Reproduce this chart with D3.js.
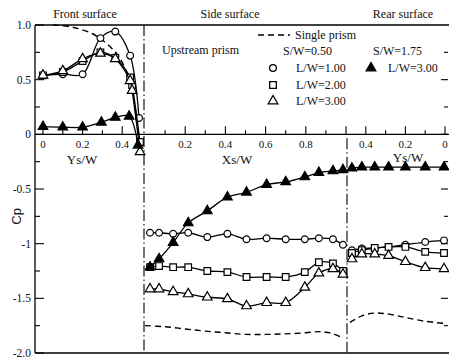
<!DOCTYPE html>
<html>
<head>
<meta charset="utf-8">
<script src="https://cdn.jsdelivr.net/npm/d3@7"></script>
<style>
  html, body { margin: 0; padding: 0; background: #fff; }
  svg { display: block; }
  text { font-family: "Liberation Serif", "DejaVu Serif", serif; fill: #111; }
</style>
</head>
<body>
<svg id="chart" width="449" height="358"></svg>
<script>
// Pressure coefficient Cp around the upstream prism: front, side and rear faces.

// Front surface, Ys/W vs Cp
const frontCircle   = [[0,0.54],[0.1,0.55],[0.2,0.55],[0.29,0.88],[0.365,0.94],[0.44,0.72],[0.485,0.15]];
const frontSquare   = [[0,0.54],[0.1,0.57],[0.2,0.67],[0.29,0.75],[0.365,0.70],[0.44,0.52],[0.45,0.45],[0.49,-0.07]];
const frontTriangle = [[0,0.54],[0.1,0.58],[0.2,0.69],[0.29,0.74],[0.365,0.69],[0.44,0.49],[0.45,0.40],[0.49,-0.16]];
const frontFilled   = [[0,0.07],[0.1,0.065],[0.2,0.065],[0.295,0.11],[0.365,0.155],[0.435,0.165],[0.48,-0.1]];
const frontSingle   = [[0.05,1.0],[0.15,0.98],[0.25,0.92],[0.3,0.86],[0.34,0.80],[0.38,0.72],[0.42,0.58],[0.45,0.40],[0.47,0.18],[0.485,-0.05]];

// Side surface, Xs/W positions shared by all series
const sideXs       = [0.025,0.07,0.14,0.215,0.31,0.41,0.505,0.605,0.70,0.795,0.865,0.935,0.985];
const sideCircle   = [-0.90,-0.90,-0.91,-0.90,-0.94,-0.91,-0.96,-0.95,-0.96,-0.96,-0.95,-0.96,-1.01];
const sideSquare   = [-1.215,-1.205,-1.215,-1.215,-1.25,-1.26,-1.305,-1.305,-1.305,-1.26,-1.17,-1.18,-1.25];
const sideTriangle = [-1.415,-1.415,-1.44,-1.46,-1.49,-1.505,-1.57,-1.54,-1.54,-1.40,-1.27,-1.23,-1.28];
const sideFilled   = [-1.215,-1.14,-0.99,-0.81,-0.70,-0.575,-0.53,-0.46,-0.435,-0.39,-0.35,-0.335,-0.325];
const sideSingle   = [[0,-1.75],[0.1,-1.76],[0.2,-1.78],[0.3,-1.80],[0.4,-1.815],[0.5,-1.83],[0.6,-1.83],[0.7,-1.825],[0.8,-1.815],[0.87,-1.805],[0.93,-1.82],[0.98,-1.86]];

// Rear surface, Ys/W positions shared by all series
const rearYs       = [0.47,0.42,0.355,0.285,0.2,0.1,0.005];
const rearCircle   = [-1.06,-1.045,-1.04,-1.03,-1.01,-0.985,-0.97];
const rearSquare   = [-1.085,-1.06,-1.04,-1.03,-1.03,-1.075,-1.085];
const rearTriangle = [-1.14,-1.095,-1.095,-1.11,-1.165,-1.22,-1.23];
const rearFilled   = [-0.31,-0.30,-0.30,-0.30,-0.30,-0.30,-0.30];
const rearSingle   = [[0.48,-1.72],[0.42,-1.66],[0.36,-1.635],[0.3,-1.64],[0.2,-1.675],[0.1,-1.71],[0,-1.73]];

// Axis ticks
const cpTicks     = [1.0,0.5,0,-0.5,-1,-1.5,-2.0];
const cpTickText  = ["1.0","0.5","0","-0.5","-1","-1.5","-2.0"];
const frontTicks  = [0,0.2,0.4];
const sideTicks   = [0.2,0.4,0.6,0.8];
const rearTicks   = [0.4,0.2,0];

const svg = d3.select("#chart");

const y      = d3.scaleLinear().domain([-2, 1]).range([353, 25]);
const xFront = d3.scaleLinear().domain([0, 0.5]).range([43, 142]);
const xSide  = d3.scaleLinear().domain([0, 1]).range([145, 346]);
const xRear  = d3.scaleLinear().domain([0.5, 0]).range([346, 445]);

const frameL = 35, frameR = 449, frameT = y(1), frameB = y(-2), zeroY = y(0);

// Frame
svg.append("line").attr("x1", frameL).attr("x2", frameL).attr("y1", frameT).attr("y2", frameB)
  .attr("stroke", "#000").attr("stroke-width", 1.3);
svg.append("line").attr("x1", frameL).attr("x2", frameR).attr("y1", frameT).attr("y2", frameT)
  .attr("stroke", "#000").attr("stroke-width", 1.6);
svg.append("line").attr("x1", frameL).attr("x2", frameR).attr("y1", frameB).attr("y2", frameB)
  .attr("stroke", "#000").attr("stroke-width", 1.3);
svg.append("line").attr("x1", frameL).attr("x2", frameR).attr("y1", zeroY).attr("y2", zeroY)
  .attr("stroke", "#000").attr("stroke-width", 1.2);

// Cp ticks, left and right
const cpAll = d3.range(-2, 1.001, 0.25);
cpAll.forEach(v => {
  const major = Math.abs(v * 2 - Math.round(v * 2)) < 1e-6;
  svg.append("line").attr("x1", frameL).attr("x2", frameL + (major ? 9 : 5))
    .attr("y1", y(v)).attr("y2", y(v)).attr("stroke", "#000").attr("stroke-width", 1.1);
  if (v > -2 && v < 1) {
    svg.append("line").attr("x1", 448).attr("x2", 448 - (major ? 7 : 4))
      .attr("y1", y(v)).attr("y2", y(v)).attr("stroke", "#000").attr("stroke-width", 1.1);
  }
});
svg.selectAll(".cplab").data(cpTicks).enter().append("text")
  .attr("x", 31).attr("y", d => y(d)).attr("dy", "0.35em")
  .attr("text-anchor", "end").attr("font-size", 11.5)
  .text((d, i) => cpTickText[i]);

svg.append("text").attr("transform", `translate(21,${y(-0.75)}) rotate(-90)`)
  .attr("text-anchor", "middle").attr("font-size", 13)
  .style("font-family", "'Liberation Sans', Arial, sans-serif").text("Cp");

// Ticks on the Cp = 0 line
function zeroTicks(scale, lo, hi, majors) {
  for (let t = lo; t <= hi + 1e-6; t += 0.1) {
    const v = Math.round(t * 10) / 10;
    const major = majors.some(m => Math.abs(m - v) < 1e-6);
    svg.append("line").attr("x1", scale(v)).attr("x2", scale(v))
      .attr("y1", zeroY).attr("y2", zeroY - (major ? 8 : 4))
      .attr("stroke", "#000").attr("stroke-width", 1.1);
  }
}
zeroTicks(xFront, 0, 0.4, frontTicks);
zeroTicks(xSide, 0.1, 1.0, sideTicks.concat([1.0]));
zeroTicks(xRear, 0, 0.4, rearTicks);

function tickLabels(scale, ticks) {
  svg.append("g").selectAll("text").data(ticks).enter().append("text")
    .attr("x", d => scale(d)).attr("y", 144).attr("dy", "0.35em")
    .attr("text-anchor", "middle").attr("font-size", 11)
    .text(d => d === 0 ? "0" : d3.format(".1f")(d));
}
tickLabels(xFront, frontTicks);
tickLabels(xSide, sideTicks);
tickLabels(xRear, rearTicks);

svg.append("text").attr("x", 82).attr("y", 159).attr("dy", "0.35em").attr("text-anchor", "middle")
  .attr("font-size", 13).text("Ys/W");
svg.append("text").attr("x", 237).attr("y", 159).attr("dy", "0.35em").attr("text-anchor", "middle")
  .attr("font-size", 13).text("Xs/W");
svg.append("text").attr("x", 408).attr("y", 157).attr("dy", "0.35em").attr("text-anchor", "middle")
  .attr("font-size", 13).text("Ys/W");

// Surface titles
[["Front surface", 85], ["Side surface", 230], ["Rear surface", 403]].forEach(([t, cx]) => {
  svg.append("text").attr("x", cx).attr("y", 14).attr("dy", "0.35em")
    .attr("text-anchor", "middle").attr("font-size", 12).text(t);
});

// Corner dividers (dash-dot)
svg.append("line").attr("x1", 144).attr("x2", 144).attr("y1", frameT).attr("y2", frameB)
  .attr("stroke", "#000").attr("stroke-width", 1.1).attr("stroke-dasharray", "11,3,1.5,3");
svg.append("line").attr("x1", 347).attr("x2", 347).attr("y1", zeroY + 4).attr("y2", frameB)
  .attr("stroke", "#000").attr("stroke-width", 1.1).attr("stroke-dasharray", "11,3,1.5,3");

// Curves
const frontLine = d3.line().x(d => xFront(d[0])).y(d => y(d[1])).curve(d3.curveCatmullRom.alpha(0.5));
const sideLine  = d3.line().x(d => xSide(d[0])).y(d => y(d[1])).curve(d3.curveCatmullRom.alpha(0.5));
const rearLine  = d3.line().x(d => xRear(d[0])).y(d => y(d[1])).curve(d3.curveCatmullRom.alpha(0.5));

const zipSide = vals => sideXs.map((x, i) => [x, vals[i]]);
const zipRear = vals => rearYs.map((x, i) => [x, vals[i]]);

// Single prism (dashed)
[[frontLine, frontSingle], [sideLine, sideSingle], [rearLine, rearSingle]].forEach(([gen, d]) => {
  svg.append("path").attr("d", gen(d)).attr("fill", "none").attr("stroke", "#000")
    .attr("stroke-width", 1.4).attr("stroke-dasharray", "6,4");
});

const series = [
  { kind: "circle",   front: frontCircle,   side: zipSide(sideCircle),   rear: zipRear(rearCircle) },
  { kind: "square",   front: frontSquare,   side: zipSide(sideSquare),   rear: zipRear(rearSquare) },
  { kind: "triangle", front: frontTriangle, side: zipSide(sideTriangle), rear: zipRear(rearTriangle) },
  { kind: "filled",   front: frontFilled,   side: zipSide(sideFilled),   rear: zipRear(rearFilled) }
];

const symGen = {
  circle:   d3.symbol().type(d3.symbolCircle).size(36),
  square:   d3.symbol().type(d3.symbolSquare).size(44),
  triangle: d3.symbol().type(d3.symbolTriangle).size(40),
  filled:   d3.symbol().type(d3.symbolTriangle).size(40)
};

function drawMarkers(g, kind, pts) {
  g.selectAll("path.m").data(pts).enter().append("path").attr("class", "m")
    .attr("transform", p => `translate(${p[0]},${p[1]})`)
    .attr("d", symGen[kind]())
    .attr("fill", kind === "filled" ? "#000" : "#fff")
    .attr("stroke", "#000").attr("stroke-width", 1.2);
}

series.forEach(s => {
  const g = svg.append("g");
  [[frontLine, s.front], [sideLine, s.side], [rearLine, s.rear]].forEach(([gen, d]) => {
    g.append("path").attr("d", gen(d)).attr("fill", "none").attr("stroke", "#000").attr("stroke-width", 1.3);
  });
  const pts = s.front.map(d => [xFront(d[0]), y(d[1])])
    .concat(s.side.map(d => [xSide(d[0]), y(d[1])]))
    .concat(s.rear.map(d => [xRear(d[0]), y(d[1])]));
  drawMarkers(g, s.kind, pts);
});

// Legend
const lg = svg.append("g").attr("font-size", 12);
lg.append("line").attr("x1", 258).attr("x2", 290).attr("y1", 35).attr("y2", 35)
  .attr("stroke", "#000").attr("stroke-width", 1.4).attr("stroke-dasharray", "6,4");
lg.append("text").attr("x", 295).attr("y", 35).attr("dy", "0.35em").text("Single prism");
lg.append("text").attr("x", 162).attr("y", 50).attr("dy", "0.35em").text("Upstream prism");
lg.append("text").attr("x", 283).attr("y", 51).attr("dy", "0.35em").text("S/W=0.50");
lg.append("text").attr("x", 373).attr("y", 51).attr("dy", "0.35em").text("S/W=1.75");
const legendRows = [
  { kind: "circle",   x: 273, y: 68,  tx: 296, label: "L/W=1.00" },
  { kind: "square",   x: 273, y: 85,  tx: 296, label: "L/W=2.00" },
  { kind: "triangle", x: 273, y: 101, tx: 296, label: "L/W=3.00" },
  { kind: "filled",   x: 371, y: 68,  tx: 388, label: "L/W=3.00" }
];
legendRows.forEach(r => {
  lg.append("path").attr("transform", `translate(${r.x},${r.y})`).attr("d", symGen[r.kind]())
    .attr("fill", r.kind === "filled" ? "#000" : "#fff").attr("stroke", "#000").attr("stroke-width", 1.3);
  lg.append("text").attr("x", r.tx).attr("y", r.y).attr("dy", "0.35em").text(r.label);
});
</script>
</body>
</html>
